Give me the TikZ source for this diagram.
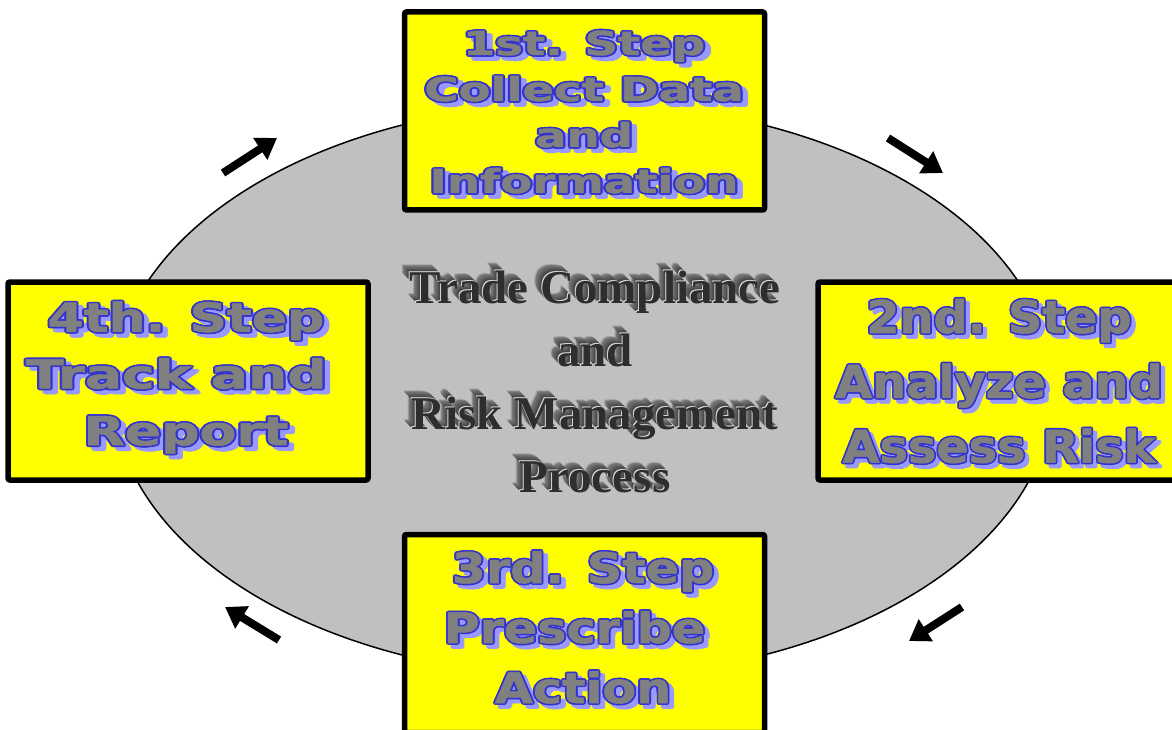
\documentclass[tikz,border=0pt]{standalone}
\usepackage{fontspec}
\usepackage{graphicx}
\usetikzlibrary{arrows.meta}

\newfontfamily\stepfont{DejaVu Sans}[FakeBold=1.2]
\newfontfamily\titlefont{Liberation Serif}

\definecolor{ovalgray}{HTML}{C0C0C0}
\definecolor{stepyellow}{HTML}{FFFF00}
\definecolor{stepfill}{HTML}{808080}
\definecolor{stepline}{HTML}{3333CC}
\definecolor{stepshadow}{HTML}{9999FF}
\definecolor{facegray}{HTML}{2E2E2E}

% one shifted copy of a piece of text, taking no room
\newcommand\fxcopy[4]{\rlap{\kern#1\raise#2\hbox{\color{#3}#4}}}
% a ring of copies around (dx,dy): thickens the glyphs into an outline
\newdimen\fxr \fxr=1.6pt
\newcommand\fxring[4]{%
  \fxcopy{\dimexpr#1+\fxr\relax}{\dimexpr#2\relax}{#3}{#4}%
  \fxcopy{\dimexpr#1-\fxr\relax}{\dimexpr#2\relax}{#3}{#4}%
  \fxcopy{\dimexpr#1\relax}{\dimexpr#2+\fxr\relax}{#3}{#4}%
  \fxcopy{\dimexpr#1\relax}{\dimexpr#2-\fxr\relax}{#3}{#4}%
  \fxcopy{\dimexpr#1+0.7\fxr\relax}{\dimexpr#2+0.7\fxr\relax}{#3}{#4}%
  \fxcopy{\dimexpr#1+0.7\fxr\relax}{\dimexpr#2-0.7\fxr\relax}{#3}{#4}%
  \fxcopy{\dimexpr#1-0.7\fxr\relax}{\dimexpr#2+0.7\fxr\relax}{#3}{#4}%
  \fxcopy{\dimexpr#1-0.7\fxr\relax}{\dimexpr#2-0.7\fxr\relax}{#3}{#4}}
% outlined step lettering with a drop shadow; #1 = horizontal stretch
\newcommand\fx[2]{\smash{\scalebox{#1}[1]{%
  \fxring{4pt}{-4pt}{stepshadow}{#2}\fxcopy{4pt}{-4pt}{stepshadow}{#2}%
  \fxring{0pt}{0pt}{stepline}{#2}%
  \hbox{\color{stepfill}#2}}}}
% extruded lettering for the title
\newcommand\tdx[1]{\smash{%
  \fxcopy{-8pt}{8pt}{black!35}{#1}%
  \fxcopy{-7pt}{7pt}{black!52}{#1}%
  \fxcopy{-6pt}{6pt}{black!56}{#1}%
  \fxcopy{-5pt}{5pt}{black!60}{#1}%
  \fxcopy{-4pt}{4pt}{black!64}{#1}%
  \fxcopy{-3pt}{3pt}{black!68}{#1}%
  \fxcopy{-2pt}{2pt}{black!72}{#1}%
  \fxcopy{-1pt}{1pt}{black!15}{#1}%
  \hbox{\color{facegray}#1}}}

\begin{document}
\begin{tikzpicture}[x=1pt, y=-1pt,
  oval/.style={draw=black, line width=1.5pt, fill=ovalgray},
  stepbox/.style={draw=black, line width=5.5pt, fill=stepyellow,
    rounded corners=2pt, minimum width=360pt, minimum height=198pt,
    inner sep=0pt},
  steptext/.style={align=center, inner sep=0pt},
  cyclearrow/.style={line width=8pt, -{Triangle[length=20pt,width=25pt]}}]

\useasboundingbox (0,0) rectangle (1172,730);
\clip (0,0) rectangle (1172,730);

% the grey process oval
\draw[oval] (583,390) ellipse [x radius=470pt, y radius=287pt];

% the four step boxes
\node[stepbox] (s1) at (584.5,111) {};
\node[stepbox] (s2) at (998,381) {};
\node[stepbox] (s3) at (584.5,633.5) {};
\node[stepbox] (s4) at (188,381) {};

% step captions
\node[steptext, font=\stepfont\bfseries\fontsize{33}{46}\selectfont] (t1) at (584,124)
  {\fx{1.41}{1st. Step}\\\fx{1.41}{Collect Data}\\\fx{1.41}{and}\\\fx{1.41}{Information}};
\node[steptext, font=\stepfont\bfseries\fontsize{45}{64.8}\selectfont] (t2) at (999,397.8)
  {\fx{1.06}{2nd. Step}\\\fx{1.06}{Analyze and}\\\fx{1.06}{Assess Risk}};
\node[steptext, font=\stepfont\bfseries\fontsize{42}{60}\selectfont] (t3) at (583,643)
  {\fx{1.17}{3rd. Step}\\\fx{1.17}{Prescribe~}\\\fx{1.17}{Action}};
\node[steptext, font=\stepfont\bfseries\fontsize{40}{56.7}\selectfont] (t4) at (186,388.5)
  {\fx{1.30}{4th. Step}\\\fx{1.38}{Track and~}\\\fx{1.34}{Report}};

% centre title
\node[steptext, font=\titlefont\bfseries\fontsize{47}{63.3}\selectfont] (title) at (595,398)
  {\tdx{Trade Compliance}\\\tdx{and}\\\tdx{Risk Management}\\\tdx{Process}};

% clockwise arrows round the cycle
\coordinate (a1s) at (888,138);  \coordinate (a1e) at (943,173);
\coordinate (a2s) at (962,607);  \coordinate (a2e) at (909,641);
\coordinate (a3s) at (279,640);  \coordinate (a3e) at (225,607);
\coordinate (a4s) at (223,173);  \coordinate (a4e) at (277,138);
\draw[cyclearrow] (a1s) -- (a1e);
\draw[cyclearrow] (a2s) -- (a2e);
\draw[cyclearrow] (a3s) -- (a3e);
\draw[cyclearrow] (a4s) -- (a4e);
\end{tikzpicture}
\end{document}
